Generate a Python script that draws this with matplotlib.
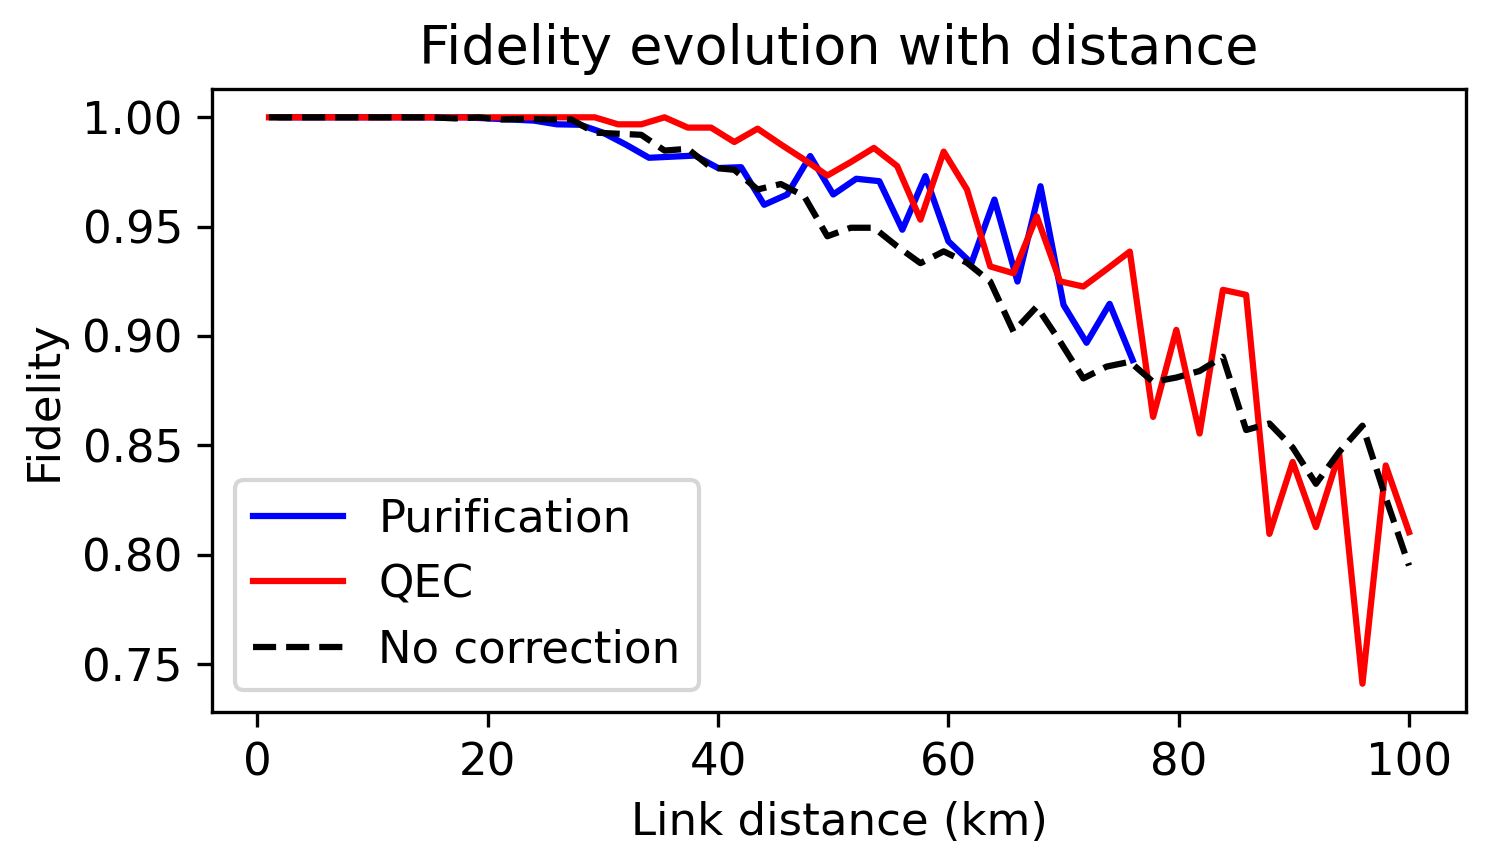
import numpy as np
import matplotlib
matplotlib.use("Agg")
import matplotlib.pyplot as plt

# distances (km)
dist = np.linspace(1, 100, 50)
dist_pur = np.arange(2, 78, 2)

# purification fidelity (only up to 76 km)
fid_pur = [1.0, 1.0, 1.0, 1.0, 1.0, 1.0, 1.0, 1.0, 1.0, 0.9995,
           0.999, 0.9985, 0.9968, 0.9966, 0.993, 0.9875, 0.9815, 0.982, 0.9825, 0.9768,
           0.9772, 0.960, 0.9647, 0.9823, 0.9647, 0.9719, 0.9708, 0.9486, 0.9731, 0.9433,
           0.9333, 0.9624, 0.9249, 0.9685, 0.9142, 0.8969, 0.9147, 0.889]

# QEC fidelity
fid_qec = [1.0, 1.0, 1.0, 1.0, 1.0, 1.0, 1.0, 1.0, 1.0, 1.0,
           1.0, 1.0, 1.0, 1.0, 1.0, 0.9968, 0.9968, 1.0, 0.9953, 0.9953,
           0.9887, 0.9948, 0.9876, 0.9807, 0.9734, 0.9795, 0.986, 0.9777, 0.9532, 0.9843,
           0.967, 0.9318, 0.9287, 0.9547, 0.925, 0.9226, 0.9305, 0.9386, 0.863, 0.9028,
           0.8554, 0.9211, 0.9188, 0.8095, 0.8424, 0.8126, 0.8461, 0.741, 0.8408, 0.8103]

# no correction
fid_none = [1.0, 1.0, 1.0, 1.0, 1.0, 1.0, 1.0, 1.0, 0.9995, 1.0,
            0.999, 0.9993, 0.999, 0.999, 0.993, 0.9925, 0.992, 0.9848, 0.9856, 0.977,
            0.976, 0.967, 0.9695, 0.964, 0.9456, 0.9495, 0.9495, 0.941, 0.9333, 0.9387,
            0.9335, 0.9249, 0.902, 0.9134, 0.8975, 0.8806, 0.886, 0.8882, 0.879, 0.881,
            0.884, 0.8905, 0.857, 0.86, 0.849, 0.8324, 0.847, 0.859, 0.826, 0.795]

plt.rcParams['font.size'] = 10.8
fig = plt.figure(figsize=(1493 / 300, 868 / 300), dpi=300)
ax = fig.add_axes([212 / 1493, 1 - 712 / 868, (1466 - 212) / 1493, (712 - 89) / 868])

ax.plot(dist_pur, fid_pur, color='blue', label='Purification')
ax.plot(dist, fid_qec, color='red', label='QEC')
ax.plot(dist, fid_none, 'k--', label='No correction')

ax.set_title('Fidelity evolution with distance')
ax.set_xlabel('Link distance (km)')
ax.set_ylabel('Fidelity')
ax.legend(loc='lower left')

fig.savefig('out.png', dpi=300)
